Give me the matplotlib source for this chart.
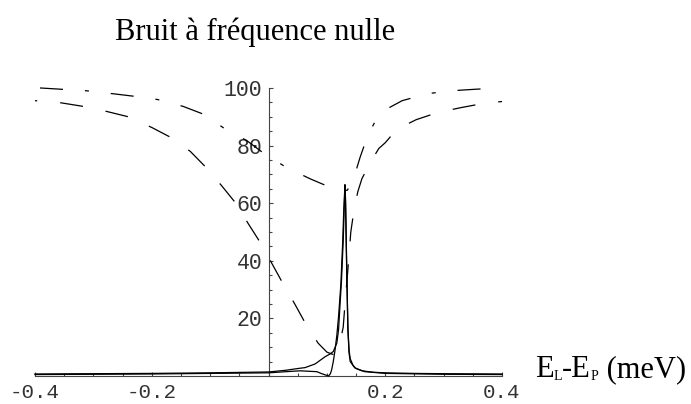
import matplotlib
matplotlib.use("Agg")
import matplotlib.pyplot as plt
from matplotlib.ticker import MultipleLocator, FixedLocator

plt.rcParams['lines.scale_dashes'] = False

# ---- data ----
x_tirets = [-0.4, -0.36, -0.32, -0.28, -0.24, -0.2, -0.167, -0.134, -0.105, -0.08, -0.056,
            -0.035, -0.013, 0.006, 0.025, 0.045, 0.064, 0.085, 0.1, 0.11, 0.118, 0.123,
            0.128, 0.131, 0.136, 0.141, 0.146, 0.153, 0.16, 0.169, 0.18, 0.189, 0.2, 0.217,
            0.235, 0.253, 0.29, 0.33, 0.367, 0.4]
y_tirets = [95.6, 95.0, 93.7, 92.0, 90.0, 86.3, 82.8, 78.0, 72.0, 66.0, 60.0,
            53.0, 46.0, 39.0, 32.0, 25.0, 18.0, 11.4, 8.3, 7.5, 9.0, 12.0,
            17.0, 25.0, 37.0, 50.0, 57.0, 64.0, 68.5, 72.0, 76.0, 79.0, 81.0, 85.0,
            87.2, 89.0, 91.5, 93.2, 94.6, 95.3]

x_mixte = [-0.4, -0.39, -0.35, -0.31, -0.266, -0.225, -0.19, -0.146, -0.11, -0.076, -0.037,
           -0.006, 0.03, 0.071, 0.1, 0.114, 0.125, 0.135, 0.145, 0.157, 0.17, 0.183, 0.196,
           0.229, 0.272, 0.31, 0.357, 0.4]
y_mixte = [100.0, 100.0, 99.5, 99.0, 98.0, 97.0, 96.0, 93.6, 90.8, 86.0, 81.7,
           77.0, 72.5, 68.5, 66.0, 65.0, 64.3, 64.5, 68.0, 76.0, 83.5, 88.5, 92.0,
           95.6, 98.0, 99.0, 99.6, 100.0]

x_large = [-0.4, -0.3, -0.2, -0.1, 0.0, 0.03, 0.054, 0.0625, 0.08, 0.097, 0.105, 0.111,
           0.117, 0.12, 0.122, 0.125, 0.128, 0.13, 0.131, 0.132, 0.134, 0.136, 0.138,
           0.14, 0.145, 0.15, 0.16, 0.18, 0.2, 0.25, 0.3, 0.4]
y_large = [0.7, 0.8, 0.9, 1.1, 1.4, 2.0, 2.7, 2.9, 4.2, 6.7, 7.6, 8.5,
           11.4, 16.0, 23.0, 33.0, 47.0, 60.0, 66.4, 61.0, 38.0, 17.0, 9.0,
           6.0, 3.6, 2.6, 1.8, 1.3, 1.1, 0.9, 0.8, 0.7]

x_fano = [-0.4, -0.2, -0.1, 0.0, 0.03, 0.054, 0.083, 0.09, 0.097, 0.103, 0.106, 0.108,
          0.111, 0.114, 0.117, 0.12, 0.124, 0.127, 0.129, 0.131, 0.132, 0.134, 0.136,
          0.138, 0.14, 0.148, 0.165, 0.2, 0.3, 0.4]
y_fano = [0.5, 0.7, 0.9, 1.1, 1.5, 1.8, 1.5, 0.9, 0.4, 0.0, 0.8, 2.0,
          5.0, 9.0, 14.0, 20.6, 32.0, 46.0, 58.0, 66.4, 60.0, 36.0, 16.0,
          8.0, 5.0, 2.8, 1.5, 0.9, 0.6, 0.5]

x_ticks_major = [-0.4, -0.2, 0.2, 0.4]
x_tick_labels = ["-0.4", "-0.2", "0.2", "0.4"]
y_ticks_major = [20, 40, 60, 80, 100]
y_tick_labels = ["20", "40", "60", "80", "100"]

title_text = "Bruit à fréquence nulle"

# ---- figure ----
W, H = 691, 404
fig = plt.figure(figsize=(W / 100, H / 100), dpi=100)
ax = fig.add_axes([35 / W, 28 / H, 467 / W, 288 / H])
ax.set_xlim(-0.4, 0.4)
ax.set_ylim(0, 100)

lw = 0.9
l1, = ax.plot(x_tirets, y_tirets, color='black', lw=lw, clip_on=False, zorder=3)
l1.set_dashes((16.6, 16.6))
l1._dash_pattern = (15.0, (16.6, 16.6))
l2, = ax.plot(x_mixte, y_mixte, color='black', lw=lw, clip_on=False, zorder=3)
l2.set_dashes((16.6, 15.8, 2.9, 15.8))
l2._dash_pattern = (47.5, (16.6, 15.8, 2.9, 15.8))
ax.plot(x_large, y_large, color='black', lw=lw, clip_on=False, zorder=3)
ax.plot(x_fano, y_fano, color='black', lw=lw, clip_on=False, zorder=3)

# axes through origin
for s in ['top', 'right']:
    ax.spines[s].set_visible(False)
ax.spines['left'].set_position(('data', 0))
ax.spines['bottom'].set_position(('data', 0))
for s in ['left', 'bottom']:
    ax.spines[s].set_linewidth(0.8)
    ax.spines[s].set_color('#444444')

ax.xaxis.set_major_locator(FixedLocator(x_ticks_major))
ax.set_xticklabels(x_tick_labels)
ax.xaxis.set_minor_locator(MultipleLocator(0.05))
ax.yaxis.set_major_locator(FixedLocator(y_ticks_major))
ax.set_yticklabels(y_tick_labels)
ax.yaxis.set_minor_locator(MultipleLocator(5))

ax.tick_params(which='both', direction='in', color='#444444', width=0.8)
ax.tick_params(which='major', length=3)
ax.tick_params(which='minor', length=2)
ax.tick_params(axis='x', which='major', pad=5)
ax.tick_params(axis='y', which='major', pad=4.5)
for lab in ax.get_xticklabels():
    lab.set_fontfamily('Liberation Mono')
    lab.set_fontsize(15)
    lab.set_color('#333333')
for lab in ax.get_yticklabels():
    lab.set_fontfamily('Liberation Mono')
    lab.set_fontsize(15.5)
    lab.set_color('#333333')

# title
fig.text(115 / W, (H - 40) / H, title_text, fontsize=22, family='Liberation Serif',
         ha='left', va='baseline')

# x label built from pieces with small subscripts
fig.canvas.draw()
r = fig.canvas.get_renderer()
xpos = 535.0
base = H - 377
pieces = [("E", 22, 0), ("L", 10, -3), ("-E", 22, 0), ("P", 10, -3), (" (meV)", 22, 0)]
for s, size, dy in pieces:
    t = fig.text(xpos / W, (base + dy) / H, s, fontsize=size, family='Liberation Serif',
                 ha='left', va='baseline')
    xpos += t.get_window_extent(r).width

fig.savefig("out.png", dpi=100)
